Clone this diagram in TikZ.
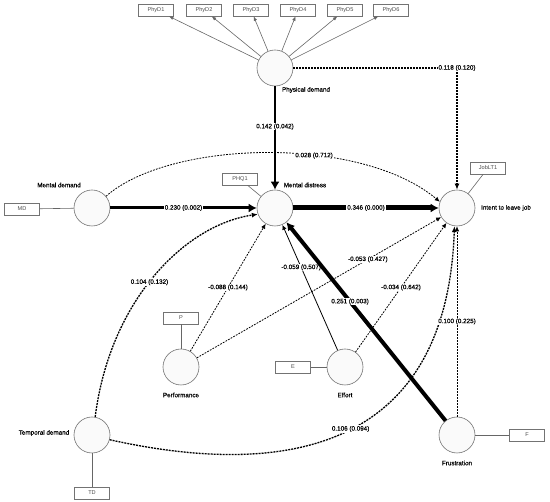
\documentclass[tikz,border=0pt]{standalone}
\usepackage{fontspec}
\setmainfont{Liberation Sans}
\newfontfamily\medfont[FakeBold=0.35]{Liberation Sans}
\usetikzlibrary{arrows.meta}
\begin{document}
\begin{tikzpicture}[x=1pt,y=-1pt,
  lv/.style={circle,draw=black!55,fill=black!2,minimum size=36pt,inner sep=0pt,line width=0.6pt},
  ind/.style={draw=black!55,line width=0.6pt,minimum width=35pt,minimum height=12pt,inner sep=0pt,font=\fontsize{5.6}{6}\selectfont,text=black!70},
  nm/.style={font=\medfont\fontsize{6.3}{7}\selectfont},
  lbl/.style={fill=white,inner sep=0.8pt,font=\medfont\fontsize{6.3}{7}\selectfont},
  load/.style={draw=black!60,line width=0.6pt},
  loadarr/.style={load,-{Latex[length=4.5pt,width=3.5pt]}},
  thinarr/.style={line width=0.8pt,-{Latex[length=5pt,width=4.5pt]}},
  thindash/.style={thinarr,dash pattern=on 1.8pt off 1.2pt},
  thickdash/.style={line width=1.3pt,dash pattern=on 2pt off 1pt,-{Latex[length=6pt,width=5pt]}},
  heavy/.style={line width=#1,-{Latex[length=8pt,width=9pt]}},
]
\useasboundingbox (0,0) rectangle (550,502);

% latent variables
\node[lv] (phy) at (275,68) {};
\node[lv] (md) at (275,208) {};
\node[lv] (itl) at (457,208) {};
\node[lv] (mdem) at (92,208) {};
\node[lv] (perf) at (181,367) {};
\node[lv] (eff) at (345,367) {};
\node[lv] (fru) at (457,435) {};
\node[lv] (tem) at (92,435) {};

% names
\node[nm] (nphy) at (306,90) {Physical demand};
\node[nm] (nmd) at (305,185) {Mental distress};
\node[nm] (nitl) at (506,208) {Intent to leave job};
\node[nm] (nmdem) at (59,185) {Mental demand};
\node[nm] (nperf) at (181,395) {Performance};
\node[nm] (neff) at (345,395) {Effort};
\node[nm] (nfru) at (457,463) {Frustration};
\node[nm] (ntem) at (44,433) {Temporal demand};

% indicators
\node[ind] (p1) at (156,10) {PhyD1};
\node[ind] (p2) at (204,10) {PhyD2};
\node[ind] (p3) at (251,10) {PhyD3};
\node[ind] (p4) at (298,10) {PhyD4};
\node[ind] (p5) at (345,10) {PhyD5};
\node[ind] (p6) at (391,10) {PhyD6};
\node[ind] (job) at (488,168) {JobLT1};
\node[ind] (phq) at (240,179) {PHQ1};
\node[ind] (mdb) at (22,209) {MD};
\node[ind] (pb) at (181,318) {P};
\node[ind] (eb) at (293,367) {E};
\node[ind] (fb) at (527,435) {F};
\node[ind] (tdb) at (92,493) {TD};

% loadings
\foreach \b in {p1,p2,p3,p4,p5,p6} \draw[loadarr] (phy) -- (\b);
\draw[load] (job) -- (itl);
\draw[load] (phq) -- (md);
\draw[load] (mdb) -- (mdem);
\draw[load] (pb) -- (perf);
\draw[load] (eb) -- (eff);
\draw[load] (fb) -- (fru);
\draw[load] (tdb) -- (tem);

% structural paths
\draw[thickdash] (tem.-15) .. controls (300,482) and (447,440) .. node[lbl,pos=0.5] {0.106 (0.094)} (itl.262);
\draw[thickdash] (tem.80) .. controls (110,300) and (185,225) .. node[lbl,pos=0.47] {0.104 (0.132)} (md.200);
\draw[thickdash] (phy.east) -| node[lbl,pos=0.5] {0.118 (0.120)} (itl.north);
\draw[thindash] (mdem.40) .. controls (170,140) and (360,135) .. node[lbl,pos=0.62] {0.028 (0.712)} (itl.160);
\draw[heavy=2.5pt] (phy) -- node[lbl,pos=0.39] {0.142 (0.042)} (md);
\draw[heavy=3pt] (mdem) -- node[lbl] {0.230 (0.002)} (md);
\draw[heavy=5pt] (md) -- node[lbl] {0.346 (0.000)} (itl);
\draw[thindash] (perf) -- node[lbl,pos=0.5] {-0.088 (0.144)} (md);
\draw[thindash] (perf) -- node[lbl,pos=0.7] {-0.053 (0.427)} (itl);
\draw[thinarr] (eff) -- node[lbl,pos=0.66] {-0.059 (0.507)} (md);
\draw[thindash] (eff) -- node[lbl,pos=0.5] {-0.034 (0.642)} (itl);
\draw[heavy=4pt] (fru) -- node[lbl,pos=0.6] {0.251 (0.003)} (md);
\draw[thindash] (fru) -- node[lbl,pos=0.5] {0.100 (0.225)} (itl);
\end{tikzpicture}
\end{document}
